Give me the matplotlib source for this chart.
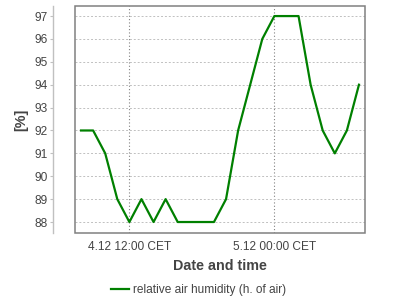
import matplotlib
matplotlib.use("Agg")
import matplotlib.pyplot as plt
import matplotlib.dates as mdates
from matplotlib.patches import Rectangle
from matplotlib.ticker import FixedLocator, FuncFormatter
import pandas as pd

times = pd.date_range("2023-12-04 08:00", periods=24, freq="h")
humidity = [92, 92, 91, 89, 88, 89, 88, 89, 88, 88, 88, 88,
            89, 92, 94, 96, 97, 97, 97, 94, 92, 91, 92, 94]
y_ticks = [88, 89, 90, 91, 92, 93, 94, 95, 96, 97]
x_ticks = [pd.Timestamp("2023-12-04 12:00"), pd.Timestamp("2023-12-05 00:00")]
series_label = "relative air humidity (h. of air)"

plt.rcParams['font.family'] = ['Liberation Sans', 'DejaVu Sans']
TXT = '#444444'

fig = plt.figure(figsize=(4, 3), dpi=100)
ax = fig.add_axes([75/400, 1-233/300, 290/400, 227/300])

ax.plot(times, humidity, color='#008000', lw=1.6, label=series_label, zorder=3)

ax.set_xlim(pd.Timestamp("2023-12-04 07:30"), pd.Timestamp("2023-12-05 07:30"))
ax.set_ylim(87.52, 97.44)
ax.set_yticks(y_ticks)
ax.xaxis.set_major_locator(FixedLocator([mdates.date2num(t) for t in x_ticks]))

def fmt(x, pos):
    d = mdates.num2date(x)
    return f"{d.day}.{d.month} {d:%H:%M} CET"
ax.xaxis.set_major_formatter(FuncFormatter(fmt))

ax.grid(axis='y', color='#c0c0c0', ls=(0, (2, 2)), lw=0.7)
ax.grid(axis='x', color='#808080', ls=(0, (1, 2)), lw=0.8)

for s in ['top', 'right', 'bottom']:
    ax.spines[s].set_visible(False)
ax.spines['left'].set_position(('outward', 22*72/100))
ax.spines['left'].set_color('#c0c0c0')
ax.spines['left'].set_linewidth(1)

frame = Rectangle((0, 0), 1, 1, transform=ax.transAxes, fill=False,
                  edgecolor='#808080', lw=1.1, zorder=5, clip_on=False)
ax.add_patch(frame)

ax.tick_params(axis='y', length=2, color='#c0c0c0', labelsize=8.6, labelcolor=TXT, pad=2)
ax.tick_params(axis='x', length=0, labelsize=8.6, labelcolor=TXT, pad=6)

ax.set_xlabel("Date and time", fontsize=10.3, fontweight='bold', color=TXT, labelpad=4)
ax.set_ylabel("[%]", fontsize=10.3, fontweight='bold', color=TXT, labelpad=4)

fig.legend(loc='center', bbox_to_anchor=(198.5/400, 1-290/300), frameon=False,
           fontsize=8.6, labelcolor=TXT, handlelength=1.5, handletextpad=0.4)

fig.savefig("out.png", dpi=100)
